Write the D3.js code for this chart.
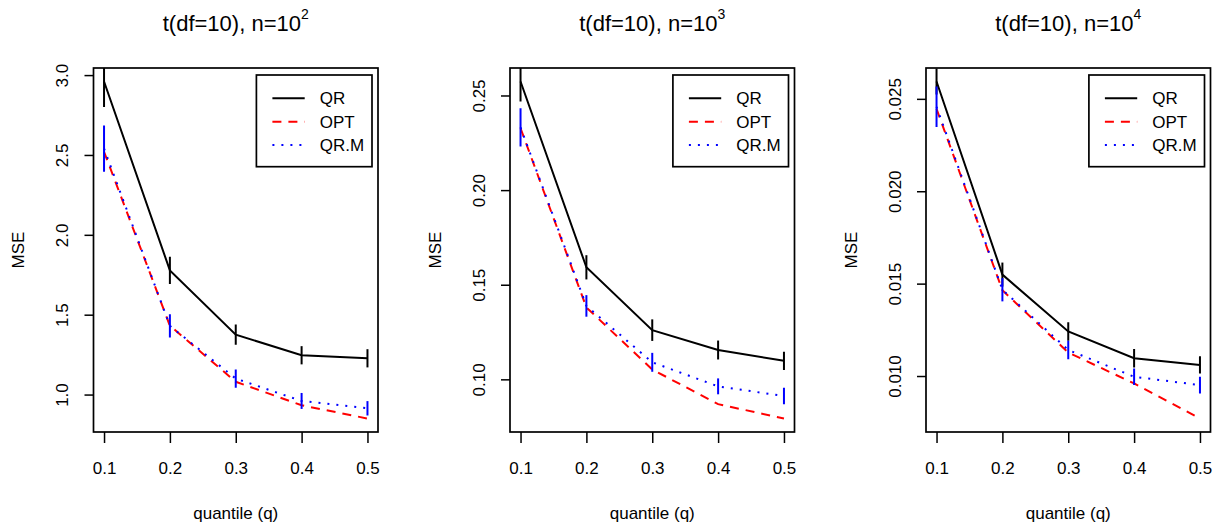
<!DOCTYPE html>
<meta charset="utf-8">
<style>
  body { margin: 0; background: #fff; }
  text { font-family: "Liberation Sans", Arial, sans-serif; fill: #000; }
  .tick line { stroke: #000; stroke-width: 1.5; }
  .tick text { font-size: 17px; }
</style>
<body>
<script src="https://cdn.jsdelivr.net/npm/d3@7"></script>
<script>

var width = 1217,
    height = 529;

// quantile levels on the x axis
var quantiles = [0.1, 0.2, 0.3, 0.4, 0.5];
var seriesNames = ["QR", "OPT", "QR.M"];
var sizeExponents = [2, 3, 4];

// n = 10^2
var qr100 = [2.96, 1.777, 1.375, 1.246, 1.227];
var qrErr100 = [0.16, 0.085, 0.063, 0.057, 0.057];
var opt100 = [2.52, 1.431, 1.08, 0.933, 0.85];
var qrm100 = [2.54, 1.43, 1.10, 0.96, 0.914];
var qrmErr100 = [0.145, 0.073, 0.057, 0.05, 0.045];

// n = 10^3
var qr1000 = [0.2574, 0.1592, 0.126, 0.1155, 0.1098];
var qrErr1000 = [0.0106, 0.0064, 0.0057, 0.005, 0.0048];
var opt1000 = [0.2327, 0.138, 0.1052, 0.0869, 0.0793];
var qrm1000 = [0.2332, 0.1388, 0.109, 0.0963, 0.0912];
var qrmErr1000 = [0.0101, 0.0057, 0.005, 0.0042, 0.0043];

// n = 10^4
var qr10000 = [0.02594, 0.01549, 0.01241, 0.01096, 0.0106];
var qrErr10000 = [0.0007, 0.00065, 0.0005, 0.0005, 0.00047];
var opt10000 = [0.02446, 0.01464, 0.01127, 0.0096, 0.0077];
var qrm10000 = [0.02457, 0.01467, 0.01141, 0.00996, 0.00951];
var qrmErr10000 = [0.0011, 0.00063, 0.0005, 0.00045, 0.00045];

var yFormats = [".1f", ".2f", ".3f"];

var panels = [
  {qr: qr100, qrErr: qrErr100, opt: opt100, qrm: qrm100, qrmErr: qrmErr100},
  {qr: qr1000, qrErr: qrErr1000, opt: opt1000, qrm: qrm1000, qrmErr: qrmErr1000},
  {qr: qr10000, qrErr: qrErr10000, opt: opt10000, qrm: qrm10000, qrmErr: qrmErr10000}
];

var plotLefts = [93.5, 510, 926],
    plotTop = 68,
    plotW = 284.5,
    plotH = 364;

var styles = [
  {color: "#000", dash: null},
  {color: "#ff0000", dash: "9,7"},
  {color: "#0000ff", dash: "2,7"}
];

var svg = d3.select("body").append("svg")
    .attr("width", width)
    .attr("height", height);

// R-style 4% padding of the range
function padded(ext) {
  var d = (ext[1] - ext[0]) * 0.04;
  return [ext[0] - d, ext[1] + d];
}

panels.forEach(function(p, i) {
  var g = svg.append("g")
      .attr("transform", "translate(" + plotLefts[i] + "," + plotTop + ")");

  var x = d3.scaleLinear()
      .domain(padded(d3.extent(quantiles)))
      .range([0, plotW]);

  var y = d3.scaleLinear()
      .domain(padded(d3.extent(p.qr.concat(p.opt, p.qrm))))
      .range([plotH, 0]);

  g.append("clipPath").attr("id", "clip" + i)
    .append("rect").attr("width", plotW).attr("height", plotH);

  // axes
  var xAxis = g.append("g")
      .attr("transform", "translate(0," + plotH + ")")
      .call(d3.axisBottom(x).tickValues(quantiles).tickSize(11).tickPadding(0).tickFormat(d3.format(".1f")));
  xAxis.select(".domain").remove();
  xAxis.selectAll("text").attr("y", 36).attr("dy", "0.35em");

  var yAxis = g.append("g")
      .call(d3.axisLeft(y).ticks(5).tickSize(9).tickFormat(d3.format(yFormats[i])));
  yAxis.select(".domain").remove();
  yAxis.selectAll("text")
      .attr("x", null).attr("dy", "0.35em")
      .attr("text-anchor", "middle")
      .attr("transform", "translate(-31,0) rotate(-90)");

  var plot = g.append("g").attr("clip-path", "url(#clip" + i + ")");
  var line = d3.line()
      .x(function(d, j) { return x(quantiles[j]); })
      .y(function(d) { return y(d); });

  // QR line and error bars
  plot.append("path").datum(p.qr)
      .attr("d", line).attr("fill", "none")
      .attr("stroke", styles[0].color).attr("stroke-width", 2);
  plot.selectAll(".qrbar").data(p.qr).enter().append("line")
      .attr("x1", function(d, j) { return x(quantiles[j]); })
      .attr("x2", function(d, j) { return x(quantiles[j]); })
      .attr("y1", function(d, j) { return y(d - p.qrErr[j]); })
      .attr("y2", function(d, j) { return y(d + p.qrErr[j]); })
      .attr("stroke", styles[0].color).attr("stroke-width", 2);

  // OPT line
  plot.append("path").datum(p.opt)
      .attr("d", line).attr("fill", "none")
      .attr("stroke", styles[1].color).attr("stroke-width", 2)
      .attr("stroke-dasharray", styles[1].dash);

  // QR.M line and error bars
  plot.append("path").datum(p.qrm)
      .attr("d", line).attr("fill", "none")
      .attr("stroke", styles[2].color).attr("stroke-width", 2)
      .attr("stroke-dasharray", styles[2].dash);
  plot.selectAll(".qrmbar").data(p.qrm).enter().append("line")
      .attr("x1", function(d, j) { return x(quantiles[j]); })
      .attr("x2", function(d, j) { return x(quantiles[j]); })
      .attr("y1", function(d, j) { return y(d - p.qrmErr[j]); })
      .attr("y2", function(d, j) { return y(d + p.qrmErr[j]); })
      .attr("stroke", styles[2].color).attr("stroke-width", 2);

  // box
  g.append("rect")
      .attr("width", plotW).attr("height", plotH)
      .attr("fill", "none").attr("stroke", "#000").attr("stroke-width", 1.7);

  // legend
  var lw = 115.6, lh = 91.7;
  var leg = g.append("g").attr("transform", "translate(" + (plotW - 6 - lw) + ",7)");
  leg.append("rect").attr("width", lw).attr("height", lh)
      .attr("fill", "#fff").attr("stroke", "#000").attr("stroke-width", 1.7);
  seriesNames.forEach(function(name, k) {
    var ly = 23.3 + k * 23.35;
    leg.append("line")
        .attr("x1", 16).attr("x2", 48.3).attr("y1", ly).attr("y2", ly)
        .attr("stroke", styles[k].color).attr("stroke-width", 2)
        .attr("stroke-dasharray", styles[k].dash);
    leg.append("text").attr("x", 63.3).attr("y", ly).attr("dy", "0.35em")
        .style("font-size", "17px").text(name);
  });

  // titles
  var title = g.append("text")
      .attr("x", plotW / 2).attr("y", 31 - plotTop)
      .attr("text-anchor", "middle")
      .style("font-size", "22px")
      .text("t(df=10), n=10");
  title.append("tspan").attr("dy", -12.5).style("font-size", "14px").text(sizeExponents[i]);

  g.append("text")
      .attr("x", plotW / 2).attr("y", plotH + 81).attr("dy", "0.35em")
      .attr("text-anchor", "middle").style("font-size", "17px")
      .text("quantile (q)");

  g.append("text")
      .attr("transform", "translate(-75," + (plotH / 2) + ") rotate(-90)")
      .attr("dy", "0.35em")
      .attr("text-anchor", "middle").style("font-size", "17px")
      .text("MSE");
});

</script>
